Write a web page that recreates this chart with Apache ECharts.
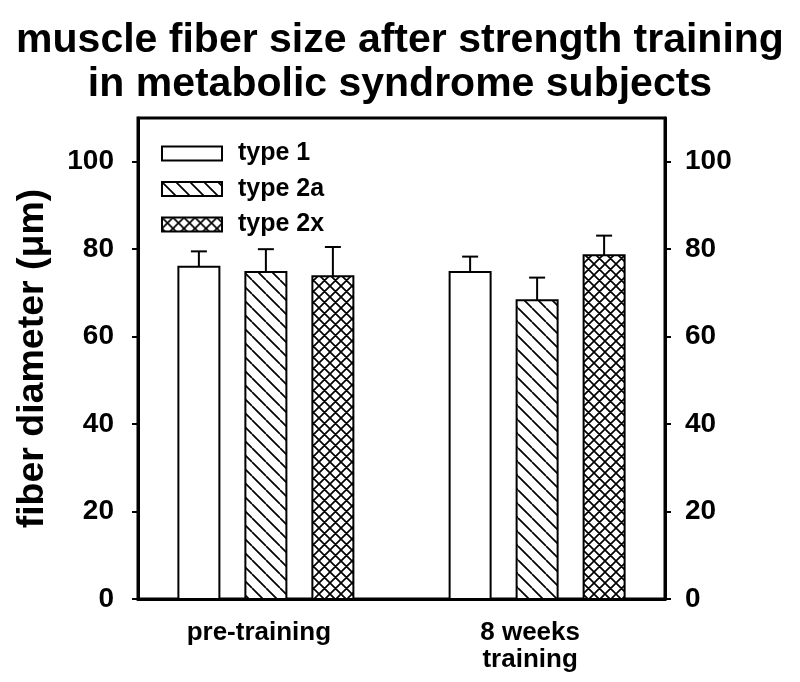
<!DOCTYPE html>
<html>
<head>
<meta charset="utf-8">
<script src="https://cdn.jsdelivr.net/npm/echarts@6/dist/echarts.min.js"></script>
<style>
  html, body { margin: 0; padding: 0; background: #fff; }
  #chart { width: 800px; height: 682px; }
</style>
</head>
<body>
<div id="chart"></div>
<script>
// ---- data ----
const categories = ['pre-training', '8 weeks\ntraining'];
const seriesNames = ['type 1', 'type 2a', 'type 2x'];
const type1 = [76.0, 74.8];
const type1Err = [3.5, 3.5];
const type2a = [74.8, 68.3];
const type2aErr = [5.2, 5.2];
const type2x = [73.8, 78.6];
const type2xErr = [6.7, 4.5];
const yTicks = [0, 20, 40, 60, 80, 100];
const categoryPositions = [0, 1];

// ---- styles ----
const FONT = "'Liberation Sans', Arial, Helvetica, sans-serif";
const BAR_W = 41;
const BAR_STEP = 67;   // bar width + gap between bars in px

function makeTile(size, both) {
  const c = document.createElement('canvas');
  c.width = size; c.height = size;
  const ctx = c.getContext('2d');
  ctx.fillStyle = '#fff';
  ctx.fillRect(0, 0, size, size);
  ctx.strokeStyle = '#000';
  ctx.lineWidth = 1.7;
  ctx.beginPath();
  for (const o of [-size, 0, size]) {
    ctx.moveTo(o, 0); ctx.lineTo(o + size, size);
    if (both) { ctx.moveTo(o + size, 0); ctx.lineTo(o, size); }
  }
  ctx.stroke();
  return c;
}
const fills = [
  '#ffffff',
  { image: makeTile(14, false), repeat: 'repeat' },
  { image: makeTile(11, true), repeat: 'repeat' }
];
const values = [type1, type2a, type2x];
const errs = [type1Err, type2aErr, type2xErr];

function makeSeries(k) {
  const data = categoryPositions.map((p, i) => [p, values[k][i], errs[k][i]]);
  return {
    name: seriesNames[k],
    type: 'custom',
    xAxisIndex: 0, yAxisIndex: 0,
    itemStyle: { color: fills[k], borderColor: '#000', borderWidth: 2 },
    data: data,
    renderItem: function (params, api) {
      const x = api.value(0), v = api.value(1), e = api.value(2);
      const top = api.coord([x, v]);
      const base = api.coord([x, 0]);
      const et = api.coord([x, v + e]);
      const cx = top[0] + (k - 1) * BAR_STEP;
      return {
        type: 'group',
        children: [
          { type: 'line', shape: { x1: cx, y1: top[1], x2: cx, y2: et[1] },
            style: { stroke: '#000', lineWidth: 2 } },
          { type: 'line', shape: { x1: cx - 8, y1: et[1], x2: cx + 8, y2: et[1] },
            style: { stroke: '#000', lineWidth: 2 } },
          { type: 'rect', shape: { x: cx - BAR_W / 2, y: top[1], width: BAR_W, height: base[1] - top[1] },
            style: { fill: fills[k], stroke: '#000', lineWidth: 2 } }
        ]
      };
    }
  };
}

const chart = echarts.init(document.getElementById('chart'), null, { renderer: 'canvas' });
function yAxisBase(margin) {
  return {
    type: 'value', min: 0, max: 110,
    axisLine: { show: true, onZero: false, lineStyle: { color: '#000', width: 3 } },
    axisTick: { show: true, inside: false, length: 6, customValues: yTicks, lineStyle: { color: '#000', width: 2 } },
    axisLabel: { customValues: yTicks, margin: margin, color: '#000', fontFamily: FONT, fontWeight: 'bold', fontSize: 28 },
    splitLine: { show: false }
  };
}
chart.setOption({
  animation: false,
  backgroundColor: '#fff',
  title: {
    text: 'muscle fiber size after strength training\nin metabolic syndrome subjects',
    left: 'center', top: 14,
    textStyle: { color: '#000', fontFamily: FONT, fontWeight: 'bold', fontSize: 41, lineHeight: 44 }
  },
  legend: {
    orient: 'vertical', left: 161, top: 141, padding: 0, itemWidth: 60, itemHeight: 14, itemGap: 10.5,
    selectedMode: false,
    textStyle: { color: '#000', fontFamily: FONT, fontWeight: 'bold', fontSize: 25, lineHeight: 25, padding: [0, 0, 0, 11] },
    data: seriesNames.map((n, k) => ({
      name: n, icon: 'rect',
      itemStyle: { color: fills[k], borderColor: '#000', borderWidth: 2 }
    }))
  },
  grid: { left: 138, right: 135, top: 118, bottom: 83, show: true, borderColor: '#000', borderWidth: 3, backgroundColor: 'transparent' },
  xAxis: {
    type: 'value', min: -0.4715, max: 1.4715,
    axisLine: { show: true, onZero: false, lineStyle: { color: '#000', width: 3 } },
    axisTick: { show: false },
    splitLine: { show: false },
    axisLabel: {
      customValues: categoryPositions, margin: 20,
      formatter: function (v) { return categories[Math.round(v)]; },
      color: '#000', fontFamily: FONT, fontWeight: 'bold', fontSize: 26, lineHeight: 27,
      padding: [0, 14, 0, 0]
    }
  },
  yAxis: [
    Object.assign(yAxisBase(24), {
      position: 'left',
      name: 'fiber diameter (\u03bcm)', nameLocation: 'middle', nameGap: 86, nameRotate: 90,
      nameTextStyle: { color: '#000', fontFamily: FONT, fontWeight: 'bold', fontSize: 37.5 }
    }),
    Object.assign(yAxisBase(20), { position: 'right' })
  ],
  series: [0, 1, 2].map(makeSeries)
});
</script>
</body>
</html>
